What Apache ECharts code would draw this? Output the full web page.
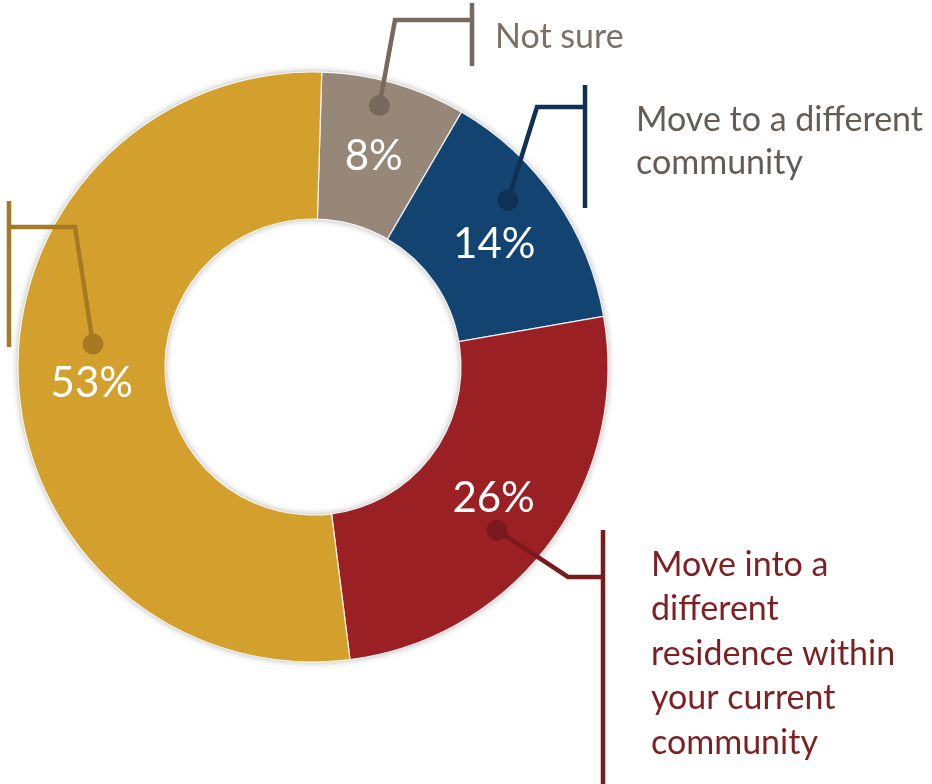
<!DOCTYPE html>
<html><head><meta charset="utf-8">
<script src="https://cdn.jsdelivr.net/npm/echarts@6/dist/echarts.min.js"></script>
<style>html,body{margin:0;padding:0;background:#fff}#c{width:932px;height:784px}</style>
</head><body><div id="c"></div>
<script>
// ---- data ----
const categories = ['Not sure', 'Move to a different community', 'Move into a different residence within your current community', ''];
const values = [8, 14, 26, 53];
const labelTexts = ['Not sure', 'Move to a different\ncommunity', 'Move into a\ndifferent\nresidence within\nyour current\ncommunity', ' '];

// ---- styles ----
const sliceColors = ['#968779', '#134471', '#9B2023', '#D4A02D'];
const lineColors = ['#77695d', '#0f3154', '#7a1a1d', '#a47b22'];
const textColors = ['#7d7064', '#645c55', '#7e1f22', '#a47b22'];
const FONT = 'Lato';

const CX = 313, CY = 367, R_OUT = 295, R_IN = 148, START = 88.3;
const total = values.reduce((a, b) => a + b, 0);

// callout anchors: fraction along slice and fraction of outer radius
const anchorT = [0.44, 0.385, 0.555, 0.546];
const anchorR = [0.915, 0.87, 0.834, 0.75];
let cum = 0;
const anchorData = values.map((v, i) => { const a = cum + v * anchorT[i]; cum += v; return [anchorR[i], a]; });
function toPixel(r, a) {
  const th = (START - a / total * 360) * Math.PI / 180;
  return [CX + r * R_OUT * Math.cos(th), CY - r * R_OUT * Math.sin(th)];
}
const callouts = [
  { bend: [395, 20], bar: [472, 3, 66], text: [495, 37], lh: 40 },
  { bend: [537, 107], bar: [585, 85, 208], text: [636, 141.5], lh: 43 },
  { bend: [568, 577], bar: [603, 530, 790], text: [651, 654], lh: 44.5 },
  { bend: [75, 227], bar: [9, 201, 347], text: [0, 270], lh: 40 }
];
// small nudges of the percentage labels
const pctNudge = [[-1, 5], [-3, 6], [0, -2], [3, 6]];

const chart = echarts.init(document.getElementById('c'), null, { renderer: 'canvas' });
chart.setOption({
  animation: false,
  backgroundColor: '#fff',
  polar: { center: [CX, CY], radius: R_OUT },
  angleAxis: { type: 'value', min: 0, max: total, startAngle: START, clockwise: true, show: false },
  radiusAxis: { type: 'value', min: 0, max: 1, show: false },
  series: [
    { // shadow ring under the donut
      type: 'pie', silent: true, z: 1, center: [CX, CY], radius: [R_IN, R_OUT],
      label: { show: false }, labelLine: { show: false }, emphasis: { disabled: true },
      itemStyle: { color: '#ffffff', shadowBlur: 7, shadowColor: 'rgba(0,0,0,0.35)' },
      data: [{ value: 1, name: '' }]
    },
    {
      type: 'pie', z: 2, center: [CX, CY], radius: [R_IN, R_OUT], startAngle: START, clockwise: true,
      emphasis: { disabled: true },
      itemStyle: { borderColor: 'rgba(255,255,255,0.85)', borderWidth: 1.2 },
      label: { show: true, position: 'inside', formatter: '{c}%', color: '#fff', fontSize: 42, fontFamily: FONT },
      labelLine: { show: false },
      labelLayout: p => ({ dx: pctNudge[p.dataIndex][0], dy: pctNudge[p.dataIndex][1] }),
      data: values.map((v, i) => ({ value: v, name: categories[i], itemStyle: { color: sliceColors[i] } }))
    },
    {
      type: 'pie', silent: true, z: 3, center: [CX, CY], radius: [R_IN, R_OUT], startAngle: START, clockwise: true,
      emphasis: { disabled: true },
      itemStyle: { color: 'rgba(0,0,0,0)' },
      label: {
        show: true, position: 'outside', fontSize: 34, fontFamily: FONT,
        formatter: p => labelTexts[p.dataIndex]
      },
      labelLine: { show: true, smooth: false, lineStyle: { width: 4.5 } },
      labelLayout: function (params) {
        const i = params.dataIndex;
        const c = callouts[i];
        const d = toPixel(anchorData[i][0], anchorData[i][1]);
        return {
          x: c.text[0], y: c.text[1], align: 'left', verticalAlign: 'middle',
          labelLinePoints: [d, c.bend, [c.bar[0], c.bend[1]], [c.bar[0], c.bar[1]], [c.bar[0], c.bar[2]]]
        };
      },
      data: values.map((v, i) => ({
        value: v, name: categories[i],
        label: { color: textColors[i], lineHeight: callouts[i].lh },
        labelLine: { lineStyle: { color: lineColors[i] } }
      }))
    },
    {
      type: 'scatter', coordinateSystem: 'polar', silent: true, z: 4, symbolSize: 21,
      itemStyle: { opacity: 1 },
      data: anchorData.map((d, i) => ({ value: d, itemStyle: { color: lineColors[i], opacity: 1 } }))
    }
  ]
});
</script></body></html>
